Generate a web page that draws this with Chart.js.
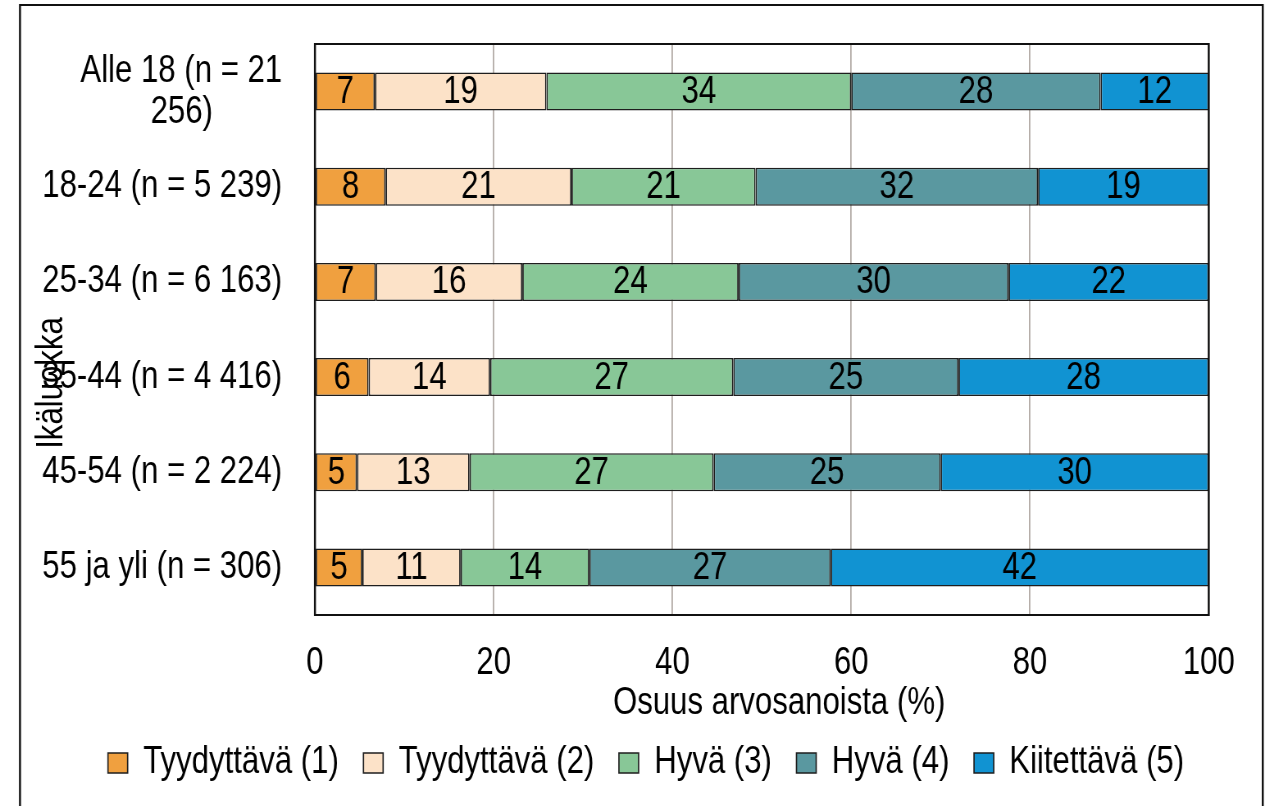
<!DOCTYPE html>
<html>
<head>
<meta charset="utf-8">
<script src="https://cdn.jsdelivr.net/npm/chart.js@4"></script>
<style>
  html, body { margin: 0; padding: 0; background: #fff; overflow: hidden; }
  #wrap { width: 1543px; height: 806px; transform-origin: 0 0; }
</style>
</head>
<body>
<div id="wrap"><canvas id="chartBar"></canvas></div>
<script>
// age groups (y axis)
const groups = [
  ["Alle 18 (n = 21", "256)        "],
  "18-24 (n = 5 239)",
  "25-34 (n = 6 163)",
  "35-44 (n = 4 416)",
  "45-54 (n = 2 224)",
  "55 ja yli (n = 306)",
];

// share of grades per group (%)
const grade1 = [6.7, 7.9, 6.8, 6.0, 4.7, 5.3];
const grade2 = [19.2, 20.8, 16.4, 13.6, 12.6, 11.0];
const grade3 = [34.1, 20.6, 24.2, 27.2, 27.3, 14.4];
const grade4 = [27.9, 31.6, 30.2, 25.2, 25.4, 27.0];
const grade5 = [12.1, 19.1, 22.4, 28.0, 30.0, 42.3];

const gradeNames = ["Tyydyttävä (1)", "Tyydyttävä (2)", "Hyvä (3)", "Hyvä (4)", "Kiitettävä (5)"];
const xTicks = [0, 20, 40, 60, 80, 100];

// no narrow font installed: draw wider and squeeze the canvas horizontally
const S = 0.82;
const W = 1543;
const H = 806;
const px = (x) => x / S;
document.getElementById("wrap").style.transform = "scaleX(" + (1265 / W) + ")";
const cv = document.getElementById("chartBar");
cv.width = W;
cv.height = H;

const FONT = "'Liberation Sans', Arial, sans-serif";
const colors = ["#F0A03F", "#FCE2C8", "#88C797", "#5A98A0", "#1193D2"];

// labels in the middle of every segment
const segmentLabels = {
  id: "segmentLabels",
  afterDatasetsDraw(chart) {
    const ctx = chart.ctx;
    ctx.save();
    ctx.font = "38px " + FONT;
    ctx.fillStyle = "#000";
    ctx.textAlign = "center";
    ctx.textBaseline = "middle";
    chart.data.datasets.forEach((ds, i) => {
      chart.getDatasetMeta(i).data.forEach((el, j) => {
        const p = el.getCenterPoint();
        ctx.fillText(Math.round(ds.data[j]), p.x, p.y + 1);
      });
    });
    ctx.restore();
  },
};

function box(ctx, l, t, r, b, lw) {
  ctx.lineWidth = lw;
  ctx.beginPath();
  ctx.moveTo(l, t); ctx.lineTo(r, t);
  ctx.moveTo(l, b); ctx.lineTo(r, b);
  ctx.stroke();
  ctx.lineWidth = lw / S;
  ctx.beginPath();
  ctx.moveTo(l, t - lw / 2); ctx.lineTo(l, b + lw / 2);
  ctx.moveTo(r, t - lw / 2); ctx.lineTo(r, b + lw / 2);
  ctx.stroke();
}

// frame, plot border and rotated y title
const frame = {
  id: "frame",
  afterDraw(chart) {
    const ctx = chart.ctx;
    const a = chart.chartArea;
    ctx.save();
    ctx.strokeStyle = "#111";
    box(ctx, a.left, a.top, a.right, a.bottom, 2);
    box(ctx, px(20), 5, px(1263), 840, 2);
    ctx.translate(px(52), 383);
    ctx.rotate(-Math.PI / 2);
    ctx.scale(S, 1 / S);
    ctx.font = "38px " + FONT;
    ctx.fillStyle = "#000";
    ctx.textAlign = "center";
    ctx.textBaseline = "middle";
    ctx.fillText("Ikäluokka", 0, 0);
    ctx.restore();
  },
};

const series = [grade1, grade2, grade3, grade4, grade5];

new Chart(cv.getContext("2d"), {
  type: "bar",
  data: {
    labels: groups,
    datasets: series.map((d, i) => ({
      label: gradeNames[i],
      data: d,
      backgroundColor: colors[i],
      borderColor: "#1E1E1E",
      borderWidth: { left: 1.8, right: 1.8, top: 1.5, bottom: 1.5 },
      borderSkipped: false,
      barPercentage: 0.4,
      categoryPercentage: 1,
    })),
  },
  options: {
    indexAxis: "y",
    responsive: false,
    animation: false,
    devicePixelRatio: 1,
    layout: { padding: { left: 0, top: 44, right: W - px(1209), bottom: 14 } },
    scales: {
      x: {
        stacked: true,
        min: 0,
        max: 100,
        afterBuildTicks: (s) => { s.ticks = xTicks.map((v) => ({ value: v })); },
        afterFit: (s) => { s.height = 99; s.paddingLeft = 0; s.paddingRight = 0; },
        grid: { color: "#B3ABA6", lineWidth: 1.8, drawTicks: false },
        border: { display: false },
        ticks: { color: "#000", font: { family: FONT, size: 38 }, padding: 26 },
        title: {
          display: true,
          text: "    Osuus arvosanoista (%)",
          color: "#000",
          font: { family: FONT, size: 38 },
          padding: { top: 0, bottom: -12.8 },
        },
      },
      y: {
        stacked: true,
        afterFit: (s) => { s.width = px(315); s.paddingTop = 0; s.paddingBottom = 0; },
        grid: { display: false, drawTicks: false },
        border: { display: false },
        ticks: { color: "#000", font: { family: FONT, size: 38, lineHeight: 1.08 }, padding: 40 },
      },
    },
    plugins: {
      legend: {
        position: "bottom",
        align: "end",
        labels: {
          color: "#000",
          font: { family: FONT, size: 38 },
          boxWidth: 24,
          boxHeight: 20,
          padding: 30,
        },
      },
      tooltip: { enabled: false },
    },
  },
  plugins: [segmentLabels, frame],
});
</script>
</body>
</html>
